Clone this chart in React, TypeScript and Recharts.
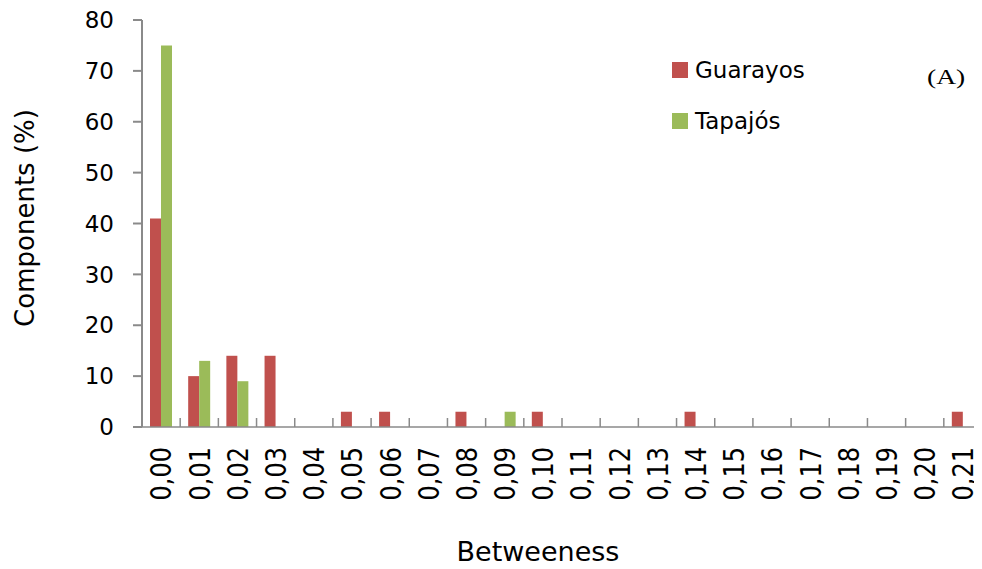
import React from 'react';
import { BarChart, Bar, XAxis, YAxis, Legend } from 'recharts';

const categories = ['0,00','0,01','0,02','0,03','0,04','0,05','0,06','0,07','0,08','0,09','0,10','0,11','0,12','0,13','0,14','0,15','0,16','0,17','0,18','0,19','0,20','0,21'];
const guarayos = [41,10,14,14,0,3,3,0,3,0,3,0,0,0,3,0,0,0,0,0,0,3];
const tapajos = [75,13,9,0,0,0,0,0,0,3,0,0,0,0,0,0,0,0,0,0,0,0];
const yTicks = [0,10,20,30,40,50,60,70,80];

const data = categories.map((c, i) => ({ cat: c, Guarayos: guarayos[i], Tapajos: tapajos[i] }));

const W = 974;
const H = 561;
const Y_W = 134;
const X_H = 142;
const TOP = 12;
const RIGHT = 0;
const PLOT_W = W - Y_W - RIGHT;
const BAND = PLOT_W / categories.length;
const FONT = '"DejaVu Sans", sans-serif';
const AXIS = '#8a8a8a';

const XTick = (props: any) => {
  const { x, y, payload } = props;
  const bx = x + BAND / 2;
  return (
    <g>
      <line x1={bx} y1={y} x2={bx} y2={y - 9} stroke={AXIS} strokeWidth={1.5} />
      <g transform={`translate(${x}, ${y + 20}) rotate(-90) scale(1, 1.2)`}>
        <text
          x={0}
          y={0}
          textAnchor="end"
          dy="0.36em"
          fontFamily={FONT}
          fontSize={24}
          fill="#000"
        >
          {payload.value}
        </text>
      </g>
    </g>
  );
};

const LegendContent = (props: any) => {
  const { payload } = props;
  return (
    <div style={{ position: 'relative', width: 300, height: 120 }}>
      {payload.map((p: any, i: number) => (
        <div key={i} style={{ position: 'absolute', left: 0, top: i * 51, height: 30, display: 'flex', alignItems: 'center' }}>
          <span style={{ display: 'inline-block', width: 16, height: 16, background: p.color, marginRight: 7 }} />
          <span style={{ fontFamily: FONT, fontSize: 23, color: '#000', lineHeight: '30px' }}>{p.value}</span>
        </div>
      ))}
    </div>
  );
};

export default function App() {
  return (
    <div style={{ position: 'relative', width: W, height: H }}>
      <BarChart
        width={W}
        height={H}
        data={data}
        margin={{ top: TOP, right: RIGHT, bottom: 0, left: 0 }}
        barGap={0}
        barSize={11}
      >
        <XAxis
          dataKey="cat"
          interval={0}
          height={X_H}
          tickSize={0}
          tickMargin={0}
          tick={<XTick />}
          axisLine={{ stroke: AXIS, strokeWidth: 1.5 }}
          tickLine={false}
          label={{
            content: () => (
              <text x={530} y={553} textAnchor="middle" fontFamily={FONT} fontSize={27} fill="#000">
                Betweeness
              </text>
            ),
          }}
        />
        <YAxis
          width={Y_W}
          domain={[0, 80]}
          ticks={yTicks}
          interval={0}
          tickSize={9}
          tickMargin={19}
          axisLine={{ stroke: AXIS, strokeWidth: 2 }}
          tickLine={{ stroke: AXIS, strokeWidth: 2 }}
          tick={{ fontFamily: FONT, fontSize: 23, fill: '#000' }}
          label={{
            content: () => (
              <text
                x={26}
                y={210}
                transform="rotate(-90, 26, 210)"
                textAnchor="middle"
                fontFamily={FONT}
                fontSize={26}
                fill="#000"
              >
                Components (%)
              </text>
            ),
          }}
        />
        <Legend
          layout="horizontal"
          verticalAlign="middle"
          align="center"
          wrapperStyle={{ left: 664, top: 47, width: 300 }}
          content={<LegendContent />}
        />
        <Bar dataKey="Guarayos" name="Guarayos" fill="#C0504D" isAnimationActive={false} />
        <Bar dataKey="Tapajos" name="Tapajós" fill="#9BBB59" isAnimationActive={false} />
      </BarChart>
      <div
        style={{
          position: 'absolute',
          left: 919,
          top: 56,
          fontFamily: '"Liberation Serif", "DejaVu Serif", serif',
          fontSize: 22,
          color: '#000',
          lineHeight: '26px',
          transform: 'scaleX(1.25)',
          transformOrigin: 'left center',
        }}
      >
        (A)
      </div>
    </div>
  );
}
